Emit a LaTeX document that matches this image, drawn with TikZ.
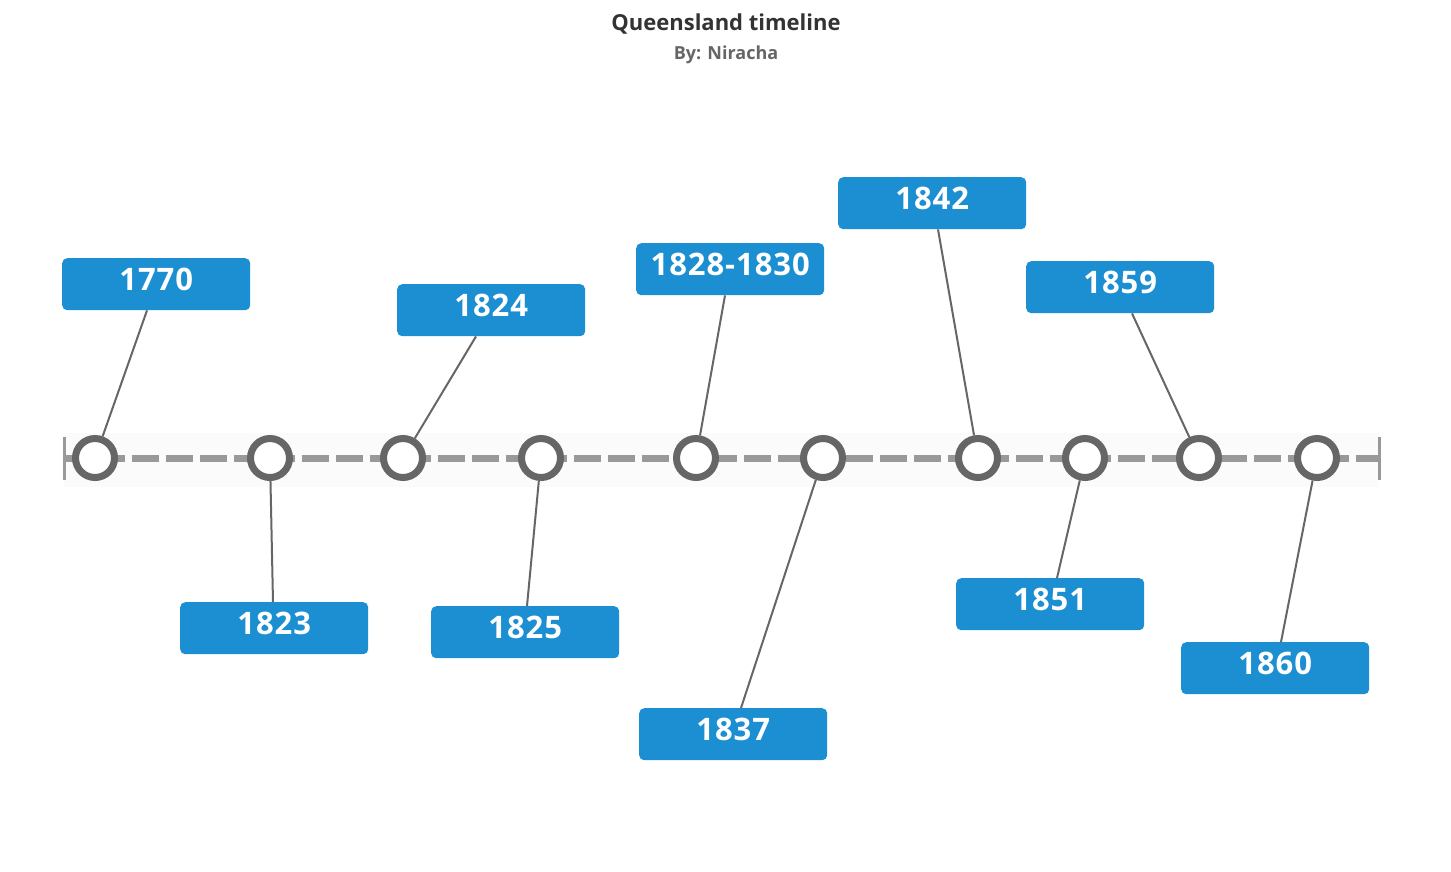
\documentclass[tikz,border=0pt]{standalone}
\usepackage{fontspec}
\setmainfont{Open Sans}
\definecolor{boxblue}{HTML}{1B8FD2}
\definecolor{ringgray}{HTML}{666666}
\definecolor{axisgray}{HTML}{999999}
\definecolor{titlegray}{HTML}{333333}
\newcommand{\yrtext}[1]{\raisebox{9pt}{#1}}
\begin{document}
\begin{tikzpicture}[x=1pt,y=-1pt,
  yearbox/.style={fill=boxblue,rounded corners=5pt,minimum width=188pt,minimum height=52pt,inner sep=0pt,text=white,font=\fontsize{31}{34}\selectfont\bfseries\addfontfeature{LetterSpace=3},anchor=north west},
  ring/.style={circle,draw=ringgray,line width=7pt,fill=white,minimum size=39pt,inner sep=0pt},
  link/.style={draw=ringgray,line width=2pt},
  tickmark/.style={draw=axisgray,line width=3pt}]
\useasboundingbox (0,0) rectangle (1451,871);
\fill[white] (0,0) rectangle (1451,871);
\fill[black!1.5] (64,433) rectangle (1379,487);
\node[font=\fontsize{22}{26}\selectfont\bfseries,text=titlegray] (title) at (726,24) {Queensland timeline};
\node[font=\fontsize{18}{22}\selectfont\bfseries,text=ringgray] (sub) at (726,55) {By: Niracha};
% axis
\coordinate (axl) at (64,458);
\coordinate (axr) at (1379,458);
\draw[axisgray,line width=7pt,dash pattern=on 27pt off 7pt] (axl) -- (axr);
\draw[tickmark] (64,437) -- (64,480);
\draw[tickmark] (1379,437) -- (1379,480);
% rings
\foreach \n/\x in {c1/95,c2/270,c3/403,c4/541,c5/696,c6/823,c7/978,c8/1085,c9/1199,c10/1317}
  \node[ring] (\n) at (\x,458) {};
% boxes
\node[yearbox] (b1) at (62,258) {\yrtext{1770}};
\node[yearbox] (b2) at (180,602) {\yrtext{1823}};
\node[yearbox] (b3) at (397,284) {\yrtext{1824}};
\node[yearbox] (b4) at (431,606) {\yrtext{1825}};
\node[yearbox] (b5) at (636,243) {\yrtext{1828-1830}};
\node[yearbox] (b6) at (639,708) {\yrtext{1837}};
\node[yearbox] (b7) at (838,177) {\yrtext{1842}};
\node[yearbox] (b8) at (956,578) {\yrtext{1851}};
\node[yearbox] (b9) at (1026,261) {\yrtext{1859}};
\node[yearbox] (b10) at (1181,642) {\yrtext{1860}};
% connectors
\path[link] ([xshift=85pt]b1.south west) -- (c1);
\path[link] ([xshift=93pt]b2.north west) -- (c2);
\path[link] ([xshift=79pt]b3.south west) -- (c3);
\path[link] ([xshift=96pt]b4.north west) -- (c4);
\path[link] ([xshift=89pt]b5.south west) -- (c5);
\path[link] ([xshift=102pt]b6.north west) -- (c6);
\path[link] ([xshift=100pt]b7.south west) -- (c7);
\path[link] ([xshift=101pt]b8.north west) -- (c8);
\path[link] ([xshift=106pt]b9.south west) -- (c9);
\path[link] ([xshift=100pt]b10.north west) -- (c10);
\end{tikzpicture}
\end{document}
